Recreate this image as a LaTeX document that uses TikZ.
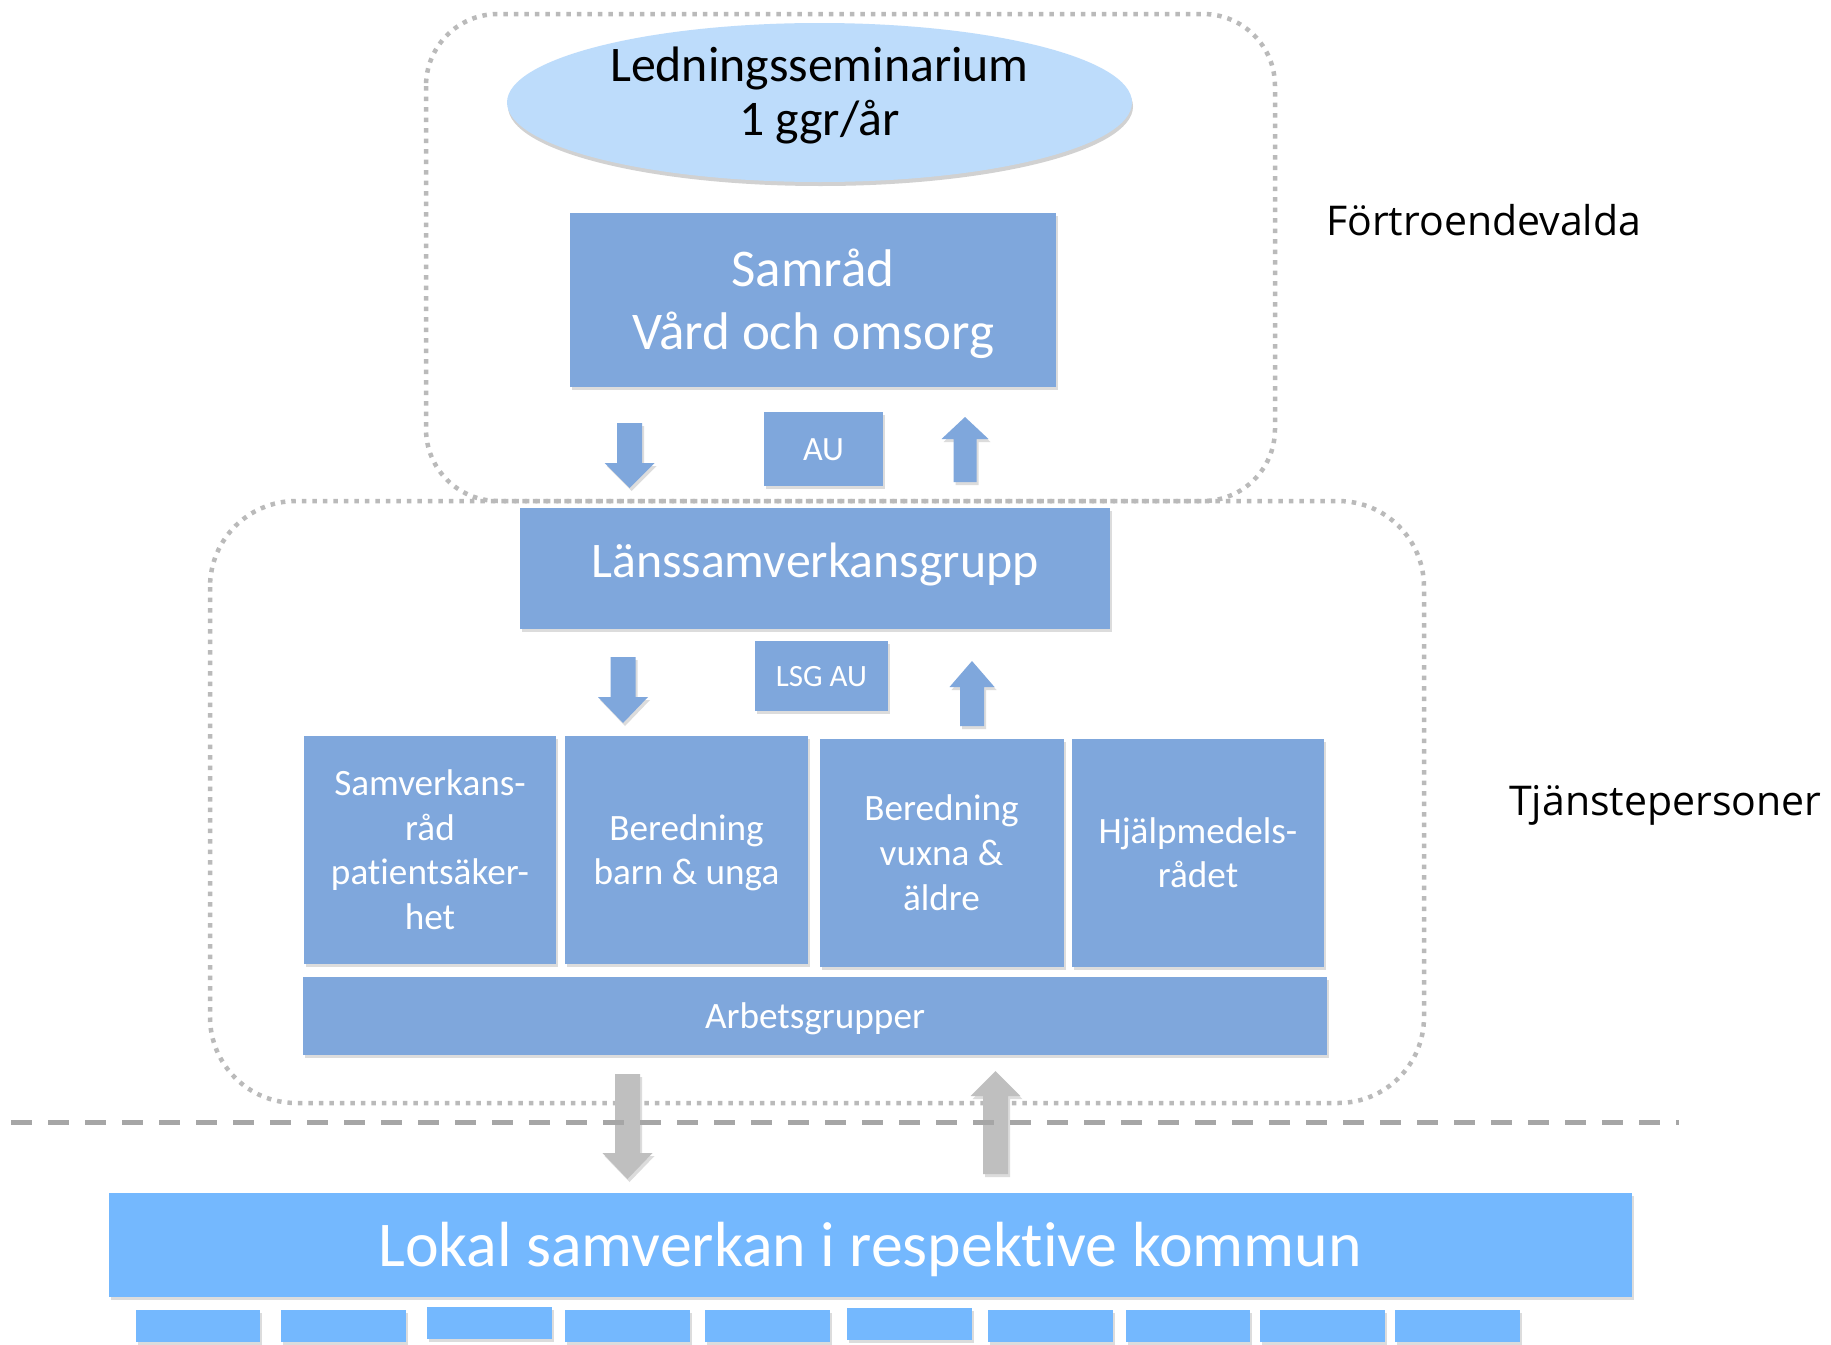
\documentclass[tikz,border=0pt]{standalone}
\usepackage{fontspec}
\setmainfont{Carlito}[Ligatures=NoCommon]
\newfontfamily\sidefont{Open Sans}
\usetikzlibrary{shapes.geometric,shadows}
\definecolor{boxblue}{RGB}{127,167,220}
\definecolor{lokalblue}{RGB}{116,184,254}
\definecolor{ellblue}{RGB}{189,220,251}
\definecolor{arrgray}{RGB}{191,191,191}
\definecolor{dotgray}{RGB}{186,186,186}
\definecolor{dashgray}{RGB}{166,166,166}
\lineskiplimit=-1000pt
% line strut: height 0.94em, depth 0.265em
\newcommand\ps{\rule[-0.265em]{0pt}{1.205em}}
% strut with extra depth
\newcommand\psd[1]{\rule[\dimexpr-0.265em-#1\relax]{0pt}{\dimexpr1.205em+#1\relax}}
\newcommand\myblkarrow[7]{%
  \fill[#1] (#2-#3,#5) -- (#2+#3,#5) -- (#2+#3,#6) -- (#2+#4,#6) -- (#2,#7) -- (#2-#4,#6) -- (#2-#3,#6) -- cycle;}
\begin{document}
\begin{tikzpicture}[x=1pt,y=-1pt,
  shd/.style={drop shadow={shadow xshift=2pt,shadow yshift=-3pt,opacity=0.3,fill=black!45}},
  bx/.style={shd,fill=boxblue,text=white,inner sep=0pt,align=center},
  lk/.style={shd,fill=lokalblue,text=white,inner sep=0pt,align=center},
  sq/.style={shd,fill=lokalblue,inner sep=0pt,minimum width=124.5pt,minimum height=32pt},
  dotbox/.style={draw=dotgray,line width=4.5pt,dash pattern=on 4.5pt off 6pt},
  barr/.style={shd,fill=boxblue},
  garr/.style={shd,fill=arrgray},
  f53/.style={font=\fontsize{53}{63.5}\selectfont},
  f50/.style={font=\fontsize{49.8}{53.3}\selectfont},
  f37/.style={font=\fontsize{37.2}{44.8}\selectfont},
  side/.style={font=\sidefont\fontsize{41}{48}\selectfont,inner sep=0pt}
]
\path[use as bounding box,fill=white] (0,0) rectangle (1831,1344);

% group frames
\draw[dotbox,rounded corners=72pt] (426,14) rectangle (1275,501);
\draw[dotbox,rounded corners=86pt] (210,501) rectangle (1424,1103);

% top
\node[ellipse,drop shadow={shadow xshift=1pt,shadow yshift=-4pt,opacity=0.4,fill=black!45},fill=ellblue,minimum width=625pt,minimum height=159pt,inner xsep=0pt,inner ysep=-16pt,align=center,f50] (sem) at (819.5,102.5) {\ps Ledningsseminarium\\\psd{21.7pt}1 ggr/år};
\node[bx,f53,minimum width=486pt,minimum height=174pt] (samrad) at (813,300) {\ps Samråd\\\ps Vård och omsorg};
\node[bx,font=\fontsize{34}{40}\selectfont,minimum width=119pt,minimum height=74pt] (au) at (823.5,449) {\ps AU};
\node[bx,f50,minimum width=590pt,minimum height=121pt] (lans) at (815,568.5) {\psd{15.2pt}Länssamverkansgrupp};
\node[bx,font=\fontsize{31}{36}\selectfont,minimum width=133pt,minimum height=70pt] (lsgau) at (821.5,676) {\ps LSG AU};

% arrows between levels
\myblkarrow{barr}{629.5}{12.5}{25}{423}{463}{488}
\myblkarrow{barr}{965}{11.5}{23.5}{482}{439}{417}
\myblkarrow{barr}{623}{12.5}{25}{657}{697}{723}
\myblkarrow{barr}{972}{12}{22.5}{726}{687}{661}

% groups
\node[bx,f37,minimum width=252pt,minimum height=228pt] (b1) at (430,850) {\ps Samverkans-\\\ps råd\\\ps patientsäker-\\\ps het};
\node[bx,f37,minimum width=243pt,minimum height=228pt] (b2) at (686.5,850) {\ps Beredning\\\ps barn \& unga};
\node[bx,f37,minimum width=244pt,minimum height=228pt] (b3) at (941.5,853) {\ps Beredning\\\ps vuxna \&\\\ps äldre};
\node[bx,f37,minimum width=252pt,minimum height=228pt] (b4) at (1198,853) {\ps Hjälpmedels-\\\ps rådet};
\node[bx,f37,minimum width=1024pt,minimum height=78pt] (arb) at (815,1016) {\ps Arbetsgrupper};

% gray arrows
\myblkarrow{garr}{627.5}{12.5}{25}{1074}{1153}{1179}
\myblkarrow{garr}{995.5}{12.5}{25}{1174}{1096}{1071}

\draw[dashgray,line width=5pt,dash pattern=on 21pt off 16pt] (11,1122) -- (1679,1122);

% local level
\node[lk,font=\fontsize{63.8}{70}\selectfont,minimum width=1523pt,minimum height=104pt] (lokal) at (870,1245) {\ps Lokal samverkan i respektive kommun};
\node[sq] (k1) at (198,1326) {};
\node[sq] (k2) at (343.3,1326) {};
\node[sq] (k3) at (489.5,1323) {};
\node[sq] (k4) at (627.5,1326) {};
\node[sq] (k5) at (767.5,1326) {};
\node[sq] (k6) at (909.5,1324) {};
\node[sq] (k7) at (1050.5,1326) {};
\node[sq] (k8) at (1188,1326) {};
\node[sq] (k9) at (1322.5,1326) {};
\node[sq] (k10) at (1457.3,1326) {};

% side labels
\node[side,anchor=base west] (fort) at (1326,235) {Förtroendevalda};
\node[side,anchor=base west] (tjan) at (1509,815) {Tjänstepersoner};
\end{tikzpicture}
\end{document}
